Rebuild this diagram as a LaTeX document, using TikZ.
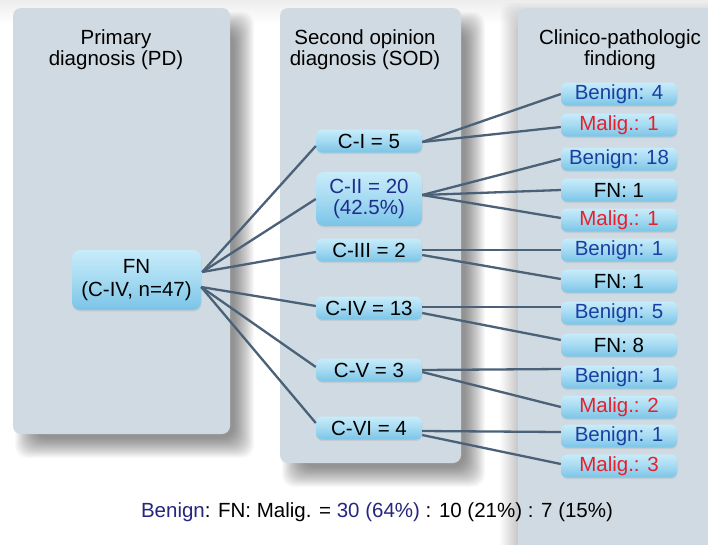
\documentclass[tikz,border=0pt]{standalone}
\usepackage{fontspec}
\setmainfont{Liberation Sans}
\usetikzlibrary{calc,shadows}
\definecolor{panelc}{HTML}{CFDAE2}
\definecolor{linec}{HTML}{4B6178}
\definecolor{ntop}{HTML}{C8ECFA}
\definecolor{nbot}{HTML}{7AC4E7}
\definecolor{benc}{HTML}{1A3FA0}
\definecolor{malc}{HTML}{E8202A}
\definecolor{navyc}{HTML}{1E2D8C}
\definecolor{botc}{HTML}{26267F}
% soft shadow: [opacity] x1 y1 x2 y2 (already shifted)
\newcommand\mysoftshadow[5][0.022]{%
  \foreach \k in {0,...,20}{%
    \fill[black, opacity=#1, rounded corners=12pt]
      ({#2-10+\k},{#3-10+\k}) rectangle ({#4+10-\k},{#5+10-\k});
  }}
\tikzset{
  panelbox/.style={fill=panelc, rounded corners=8pt},
  basebox/.style={rounded corners=6pt, inner sep=0pt, top color=ntop, bottom color=nbot,
    middle color=ntop!55!nbot,
    font=\fontsize{20.5}{21}\selectfont, align=center,
    drop shadow={shadow xshift=0.5pt, shadow yshift=-1.5pt, opacity=0.15}},
  cbox/.style={basebox, minimum width=106pt, minimum height=23pt},
  rbox/.style={basebox, minimum width=116pt, minimum height=23pt},
  ben/.style={rbox, text=benc},
  mal/.style={rbox, text=malc},
  fnb/.style={rbox, text=black},
  head/.style={align=center, font=\fontsize{20.5}{21}\selectfont, inner sep=0pt},
  conn/.style={draw=linec, line width=2.3pt}
}
\begin{document}
\begin{tikzpicture}[x=1pt,y=-1pt]
\useasboundingbox (0,0) rectangle (708,544);
\clip (0,0) rectangle (708,544);
\fill[white] (0,0) rectangle (708,544);
\shade[top color=black!7, bottom color=white] (0,0) rectangle (708,24);
% panel shadows
\mysoftshadow[0.011]{510}{12}{740}{580}
\mysoftshadow{25}{22}{244}{448}
\mysoftshadow{292}{22}{475}{477}
% panels
\path[panelbox] (518,8) rectangle (740,580);
\path[panelbox] (13,8) rectangle (230,434);
\path[panelbox] (280,8) rectangle (461,463);
% headers
\node[head] (hPD) at (116,50) {Primary\\diagnosis (PD)};
\node[head] (hSOD) at (365,50) {Second opinion\\diagnosis (SOD)};
\node[head] (hCP) at (620,50) {Clinico-pathologic\\findiong};
% nodes
\node[cbox, minimum width=129pt, minimum height=60pt, rounded corners=8pt,
  font=\fontsize{20.5}{23}\selectfont] (FN) at (136.5,280) {FN\\(C-IV, n=47)};
\node[cbox] (CI) at (369,141) {C-I = 5};
\node[cbox, minimum height=54pt, text=navyc, rounded corners=8pt] (CII) at (369,199) {C-II = 20\\(42.5\%)};
\node[cbox] (CIII) at (369,250) {C-III = 2};
\node[cbox] (CIV) at (369,308) {C-IV = 13};
\node[cbox] (CV) at (369,370) {C-V = 3};
\node[cbox] (CVI) at (369,428) {C-VI = 4};
\node[ben] (R1) at (619,94) {Benign: 4};
\node[mal] (R2) at (619,125) {Malig.: 1};
\node[ben] (R3) at (619,159) {Benign: 18};
\node[fnb] (R4) at (619,190) {FN: 1};
\node[mal] (R5) at (619,220) {Malig.: 1};
\node[ben] (R6) at (619,250) {Benign: 1};
\node[fnb] (R7) at (619,281) {FN: 1};
\node[ben] (R8) at (619,313) {Benign: 5};
\node[fnb] (R9) at (619,345) {FN: 8};
\node[ben] (R10) at (619,377) {Benign: 1};
\node[mal] (R11) at (619,407) {Malig.: 2};
\node[ben] (R12) at (619,436) {Benign: 1};
\node[mal] (R13) at (619,466) {Malig.: 3};
% fan start points
\coordinate (FNu) at ($(FN.east)+(1,-8)$);
\coordinate (FNl) at ($(FN.east)+(0,7)$);
\draw[conn] (FNu) -- ($(CI.west)+(0,5)$);
\draw[conn] (FNu) -- (CII.west);
\draw[conn] (FNu) -- ($(CIII.west)+(0,2)$);
\draw[conn] (FNl) -- ($(CIV.west)+(0,-2)$);
\draw[conn] (FNl) -- ($(CV.west)+(0,-3)$);
\draw[conn] (FNl) -- ($(CVI.west)+(0,-5)$);
% second level
\draw[conn] ($(CI.east)+(0,1)$) -- (R1.west);
\draw[conn] ($(CI.east)+(0,1)$) -- ($(R2.west)+(0,2)$);
\draw[conn] ($(CII.east)+(0,-4)$) -- (R3.west);
\draw[conn] ($(CII.east)+(0,-4)$) -- (R4.west);
\draw[conn] ($(CII.east)+(0,-4)$) -- ($(R5.west)+(0,-2)$);
\draw[conn] (CIII.east) -- (R6.west);
\draw[conn] ($(CIII.east)+(0,5)$) -- ($(R7.west)+(0,-2)$);
\draw[conn] ($(CIV.east)+(0,-1)$) -- ($(R8.west)+(0,-6)$);
\draw[conn] ($(CIV.east)+(0,5)$) -- ($(R9.west)+(0,-5)$);
\draw[conn] (CV.east) -- ($(R10.west)+(0,-8)$);
\draw[conn] ($(CV.east)+(0,2)$) -- (R11.west);
\draw[conn] ($(CVI.east)+(0,3)$) -- ($(R12.west)+(0,-4)$);
\draw[conn] ($(CVI.east)+(0,7)$) -- ($(R13.west)+(0,-2)$);
% bottom summary
\node[head] (sum) at (377,512) {\textcolor{botc}{Benign}: FN: Malig. = \textcolor{botc}{30 (64\%)} : 10 (21\%) : 7 (15\%)};
\end{tikzpicture}
\end{document}
